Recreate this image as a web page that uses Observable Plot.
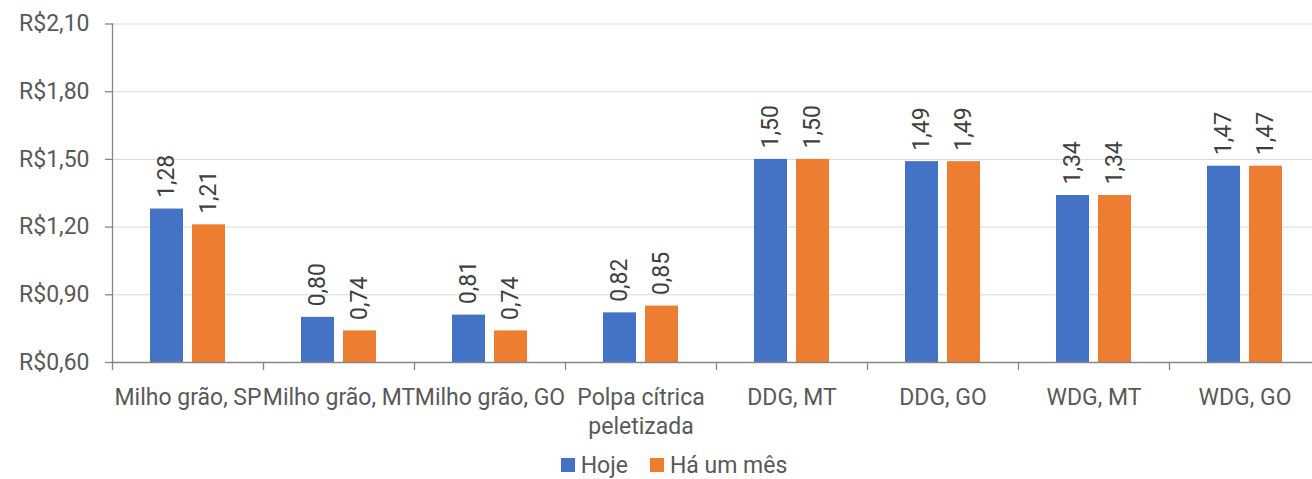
<!DOCTYPE html>
<html>
<head>
<meta charset="utf-8">
<script src="https://cdn.jsdelivr.net/npm/d3@7"></script>
<script src="https://cdn.jsdelivr.net/npm/@observablehq/plot@0.6"></script>
<style>
  html, body { margin: 0; padding: 0; background: #fff; }
  #chart { width: 1312px; }
  #legend { display: flex; justify-content: center; align-items: center; height: 28px; padding-left: 36px; font-family: Roboto, sans-serif; font-size: 23px; color: #595959; line-height: 23px; margin-top: 3px; }
  #legend .item { display: inline-flex; align-items: center; margin-right: 22px; }
  #legend .item:last-child { margin-right: 0; }
  #legend .sw { display: inline-block; width: 14px; height: 14px; margin-right: 6px; }
</style>
</head>
<body>
<div id="chart"></div>
<div id="legend"></div>
<script>
const categories = ["Milho grão, SP", "Milho grão, MT", "Milho grão, GO", "Polpa cítrica\npeletizada", "DDG, MT", "DDG, GO", "WDG, MT", "WDG, GO"];
const series = ["Hoje", "Há um mês"];
const hoje = [1.28, 0.80, 0.81, 0.82, 1.50, 1.49, 1.34, 1.47];
const haUmMes = [1.21, 0.74, 0.74, 0.85, 1.50, 1.49, 1.34, 1.47];
const yTicks = [0.60, 0.90, 1.20, 1.50, 1.80, 2.10];
const colors = ["#4472C4", "#ED7D31"];

const data = categories.flatMap((c, i) => [
  {category: c, series: series[0], value: hoje[i]},
  {category: c, series: series[1], value: haUmMes[i]}
]);

const fmt = v => v.toFixed(2).replace(".", ",");
const axisColor = "#868686";

const plot = Plot.plot({
  width: 1312,
  height: 448,
  marginLeft: 110,
  marginRight: -10,
  marginTop: 23.5,
  marginBottom: 86,
  style: {fontFamily: "Roboto, sans-serif", fontSize: "23px", color: "#595959", background: "#fff"},
  fx: {domain: categories, padding: 0, label: null},
  x: {domain: series, paddingInner: 0.209, paddingOuter: 0.866, axis: null},
  y: {domain: [yTicks[0], yTicks[yTicks.length - 1]], ticks: yTicks, label: null},
  color: {domain: series, range: colors},
  marks: [
    Plot.gridY(yTicks, {stroke: "#d9d9d9", strokeOpacity: 1, strokeWidth: 1}),
    Plot.barY(data, {fx: "category", x: "series", y1: yTicks[0], y2: "value", fill: "series"}),
    Plot.text(data, {fx: "category", x: "series", y: "value", text: d => fmt(d.value), rotate: -90, textAnchor: "start", lineAnchor: "middle", dy: -11, fontSize: 23, fill: "#404040"}),
    Plot.ruleY([yTicks[0]], {stroke: axisColor, strokeWidth: 1.3}),
    Plot.frame({anchor: "left", facetAnchor: "left", stroke: axisColor, strokeWidth: 1.3}),
    Plot.frame({anchor: "left", insetTop: 338.5, insetBottom: -7, stroke: axisColor, strokeWidth: 1.3}),
    Plot.axisY(yTicks, {anchor: "left", tickSize: 7, tickPadding: 16, tickFormat: v => "R$" + fmt(v), stroke: axisColor, strokeWidth: 1.3, fontSize: 23, fill: "#595959", label: null}),
    Plot.axisFx({anchor: "bottom", tickSize: 0, tickPadding: 22, fontSize: 23, lineHeight: 1.26, fill: "#595959", label: null})
  ]
});

document.getElementById("chart").appendChild(plot);

const items = d3.select("#legend").selectAll("span.item")
  .data(series)
  .join("span")
  .attr("class", "item");
items.append("span").attr("class", "sw").style("background", (d, i) => colors[i]);
items.append("span").text(d => d);
</script>
</body>
</html>
